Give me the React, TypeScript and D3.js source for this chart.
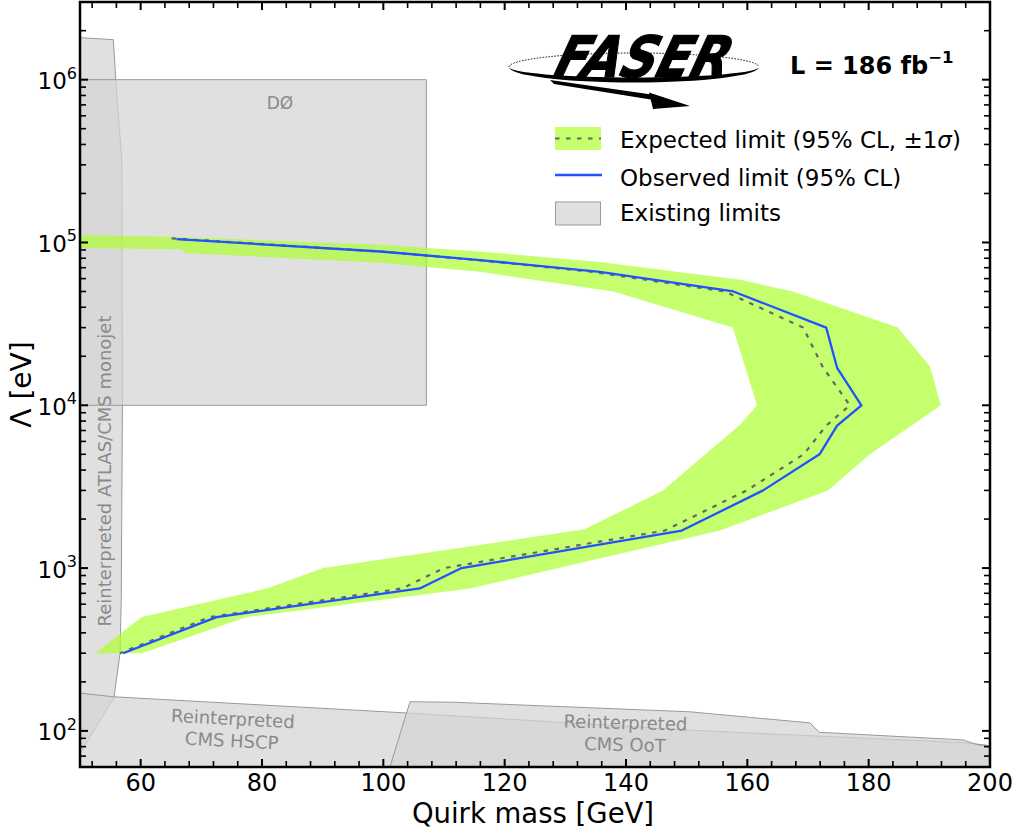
import * as d3 from "d3";

// observed limit (95% CL): quirk mass [GeV] vs Lambda [eV]
const obsMass = [65.9, 99.5, 115.9, 135.7, 157.7, 173.0, 174.8, 178.8, 174.8, 171.9, 162.6, 149.2, 112.9, 106.0, 72.5, 57.1];
const obsLambda = [1.05e5, 8.8e4, 7.8e4, 6.6e4, 5.0e4, 3.0e4, 1.7e4, 1.0e4, 7.5e3, 5.0e3, 3.0e3, 1.7e3, 1.0e3, 750, 500, 300];

// expected limit (median)
const expMass = [65.1, 99.5, 115.5, 134.5, 156.3, 169.2, 172.5, 176.9, 173.0, 169.3, 159.9, 146.4, 110.0, 103.1, 71.4, 56.6];
const expLambda = [1.06e5, 8.8e4, 7.8e4, 6.6e4, 5.0e4, 3.0e4, 1.7e4, 1.0e4, 7.5e3, 5.0e3, 3.0e3, 1.7e3, 1.0e3, 750, 500, 300];

// +-1 sigma band: outer edge then inner edge (reversed)
const bandOuterMass = [45, 66.0, 99.5, 115.9, 135.7, 158.8, 167.5, 184.8, 190.1, 191.9, 180.2, 173.3, 155.5, 114.3, 77.5, 60.2];
const bandOuterLambda = [1.12e5, 1.08e5, 9.7e4, 8.8e4, 7.6e4, 5.9e4, 5.0e4, 3.0e4, 1.73e4, 1.0e4, 5.0e3, 3.0e3, 1.7e3, 750, 500, 300];
const bandInnerMass = [52.5, 60.2, 80.8, 90.1, 133.2, 146.1, 158.8, 161.6, 157.6, 137.9, 115.9, 99.5, 67.6, 66.5, 45];
const bandInnerLambda = [300, 500, 750, 1000, 1.73e3, 3.0e3, 7.6e3, 1.0e4, 3.0e4, 5.0e4, 6.6e4, 7.5e4, 8.6e4, 9.1e4, 9.3e4];

// existing limits
const monojetMass = [40, 50.3, 55.5, 55.9, 56.9, 57.0, 56.8, 56.6, 55.6, 50.3, 45];
const monojetLambda = [1.82e6, 1.81e6, 1.76e6, 1.0e6, 3.1e5, 1.1e4, 640, 300, 160, 76, 40];
const d0Mass = [40, 107.1, 107.1, 40];
const d0Lambda = [1.0e4, 1.0e4, 1.0e6, 1.0e6];
const hscpMass = [40, 50.3, 55.5, 103.6, 150.5, 171.4, 196.1, 205, 205, 40];
const hscpLambda = [178, 170, 162, 129, 101, 93, 84.5, 77, 30, 30];
const ootMass = [98.6, 104.4, 111.5, 150.5, 170.3, 171.9, 195.6, 198, 205, 205];
const ootLambda = [30, 151, 150, 131, 112, 98, 88, 82, 78, 30];

const xMajor = [60, 80, 100, 120, 140, 160, 180, 200];
const yExponents = [2, 3, 4, 5, 6];

const font = "DejaVu Sans, Verdana, sans-serif";
const grayFill = "#d4d4d4";
const grayEdge = "#9a9a9a";
const labelGray = "#8a8a8a";

const pts = (ms: number[], ls: number[]) => ms.map((m, i) => [m, ls[i]] as [number, number]);

export default function App() {
  const W = 1014, H = 830;
  const L = 80, R = 990, T = 2, B = 767;
  const x = d3.scaleLinear().domain([50, 200]).range([L, R]);
  const y = d3.scaleLog().domain([60, 3e6]).range([B, T]);

  const line = d3.line<[number, number]>().x(d => x(d[0])).y(d => y(d[1]));
  const poly = (ms: number[], ls: number[]) => line(pts(ms, ls)) + "Z";

  const bandPath = poly(
    [...bandOuterMass, ...bandInnerMass],
    [...bandOuterLambda, ...bandInnerLambda]
  );

  const xMinor = d3.range(52, 201, 4).filter(v => !xMajor.includes(v));
  const yMinor: number[] = [];
  for (let e = 1; e <= 6; e++) {
    for (let k = 2; k <= 9; k++) {
      const v = k * Math.pow(10, e);
      if (v > 60 && v < 3e6) yMinor.push(v);
    }
  }

  return (
    <div style={{ position: "absolute", left: 0, top: 0 }}>
      <svg width={W} height={H} style={{ display: "block", fontFamily: font }}>
        <defs>
          <clipPath id="plot">
            <rect x={L} y={T} width={R - L} height={B - T} />
          </clipPath>
        </defs>
        <rect x={0} y={0} width={W} height={H} fill="#fff" />

        <g clipPath="url(#plot)">
          <path d={poly(monojetMass, monojetLambda)} fill={grayFill} fillOpacity={0.72} stroke={grayEdge} strokeWidth={1} />
          <path d={poly(d0Mass, d0Lambda)} fill={grayFill} fillOpacity={0.72} stroke={grayEdge} strokeWidth={1} />
          <path d={poly(hscpMass, hscpLambda)} fill={grayFill} fillOpacity={0.72} stroke={grayEdge} strokeWidth={1} />
          <path d={poly(ootMass, ootLambda)} fill={grayFill} fillOpacity={0.72} stroke={grayEdge} strokeWidth={1} />

          <path d={bandPath} fill="#adff2f" fillOpacity={0.7} stroke="none" />
          <path d={line(pts(expMass, expLambda)) || ""} fill="none" stroke="#666" strokeWidth={2.2} strokeDasharray="4.5,6.5" />
          <path d={line(pts(obsMass, obsLambda)) || ""} fill="none" stroke="#2152ff" strokeWidth={2.3} strokeLinejoin="round" />
        </g>

        {/* region labels */}
        <text x={280} y={109} fontSize={17} fill={labelGray} textAnchor="middle">DØ</text>
        <text transform="translate(111,471) rotate(-90)" fontSize={18} fill={labelGray} textAnchor="middle">
          Reinterpreted ATLAS/CMS monojet
        </text>
        <g transform="rotate(3,232,735)" fontSize={18} fill={labelGray} textAnchor="middle">
          <text x={232} y={725}>Reinterpreted</text>
          <text x={232} y={747}>CMS HSCP</text>
        </g>
        <g transform="rotate(1.5,625,740)" fontSize={18} fill={labelGray} textAnchor="middle">
          <text x={625} y={729}>Reinterpreted</text>
          <text x={625} y={751}>CMS OoT</text>
        </g>

        {/* ticks */}
        {xMajor.map(v => (
          <g key={"xM" + v}>
            <line x1={x(v)} x2={x(v)} y1={B} y2={B - 8} stroke="#000" strokeWidth={2} />
            <line x1={x(v)} x2={x(v)} y1={T} y2={T + 8} stroke="#000" strokeWidth={2} />
            <text x={x(v)} y={791} fontSize={24} textAnchor="middle">{v}</text>
          </g>
        ))}
        {xMinor.map(v => (
          <g key={"xm" + v}>
            <line x1={x(v)} x2={x(v)} y1={B} y2={B - 6} stroke="#000" strokeWidth={1.6} />
            <line x1={x(v)} x2={x(v)} y1={T} y2={T + 6} stroke="#000" strokeWidth={1.6} />
          </g>
        ))}
        {yExponents.map(e => {
          const yy = y(Math.pow(10, e));
          return (
            <g key={"yM" + e}>
              <line x1={L} x2={L + 8} y1={yy} y2={yy} stroke="#000" strokeWidth={2} />
              <line x1={R} x2={R - 8} y1={yy} y2={yy} stroke="#000" strokeWidth={2} />
              <text x={77} y={yy + 9.5} fontSize={23} textAnchor="end">
                10<tspan dy={-10.5} fontSize={16}>{e}</tspan>
              </text>
            </g>
          );
        })}
        {yMinor.map(v => (
          <g key={"ym" + v}>
            <line x1={L} x2={L + 6} y1={y(v)} y2={y(v)} stroke="#000" strokeWidth={1.6} />
            <line x1={R} x2={R - 6} y1={y(v)} y2={y(v)} stroke="#000" strokeWidth={1.6} />
          </g>
        ))}

        <rect x={L} y={T} width={R - L} height={B - T} fill="none" stroke="#000" strokeWidth={2.5} />

        {/* axis titles */}
        <text x={(L + R) / 2 - 2} y={823} fontSize={27.5} textAnchor="middle">Quirk mass [GeV]</text>
        <text transform={`translate(31,${(T + B) / 2}) rotate(-90)`} fontSize={28} textAnchor="middle">Λ [eV]</text>

        {/* FASER logo */}
        <g>
          <path d="M509,67 A125,14 0 0 1 759,67" fill="none" stroke="#000" strokeWidth={1} strokeDasharray="1.5,1.5" />
          <path d="M509,67 A125,15.5 0 0 0 759,67 A125,10.5 0 0 1 509,67 Z" fill="#000" />
          <path d="M550,80 L655,95 L657,100.5 L554,84 Z" fill="#000" />
          <path d="M649,92.5 L690,106 L653,109 Z" fill="#000" />
          <text transform="translate(552,77) skewX(-16)" fontSize={57} fontWeight="bold" fontStyle="italic"
            textLength={174} lengthAdjust="spacingAndGlyphs" fill="#000" stroke="#000" strokeWidth={1.2}>
            FASER
          </text>
        </g>
        <text x={790} y={74} fontSize={24} fontWeight="bold">
          L = 186 fb<tspan dy={-11} fontSize={16.5}>−1</tspan>
        </text>

        {/* legend */}
        <rect x={555} y={127} width={46} height={23} fill="#adff2f" fillOpacity={0.7} />
        <line x1={555} x2={601} y1={138.5} y2={138.5} stroke="#666" strokeWidth={2} strokeDasharray="4.5,6.5" />
        <text x={620} y={148} fontSize={23}>
          Expected limit (95% CL, ±1<tspan fontStyle="italic">σ</tspan>)
        </text>
        <line x1={555} x2={602} y1={175} y2={175} stroke="#2152ff" strokeWidth={2.3} />
        <text x={620} y={185.5} fontSize={23}>Observed limit (95% CL)</text>
        <rect x={555.5} y={202} width={45} height={23} fill="#e0e0e0" stroke={grayEdge} strokeWidth={1} />
        <text x={620} y={221} fontSize={23}>Existing limits</text>
      </svg>
    </div>
  );
}
